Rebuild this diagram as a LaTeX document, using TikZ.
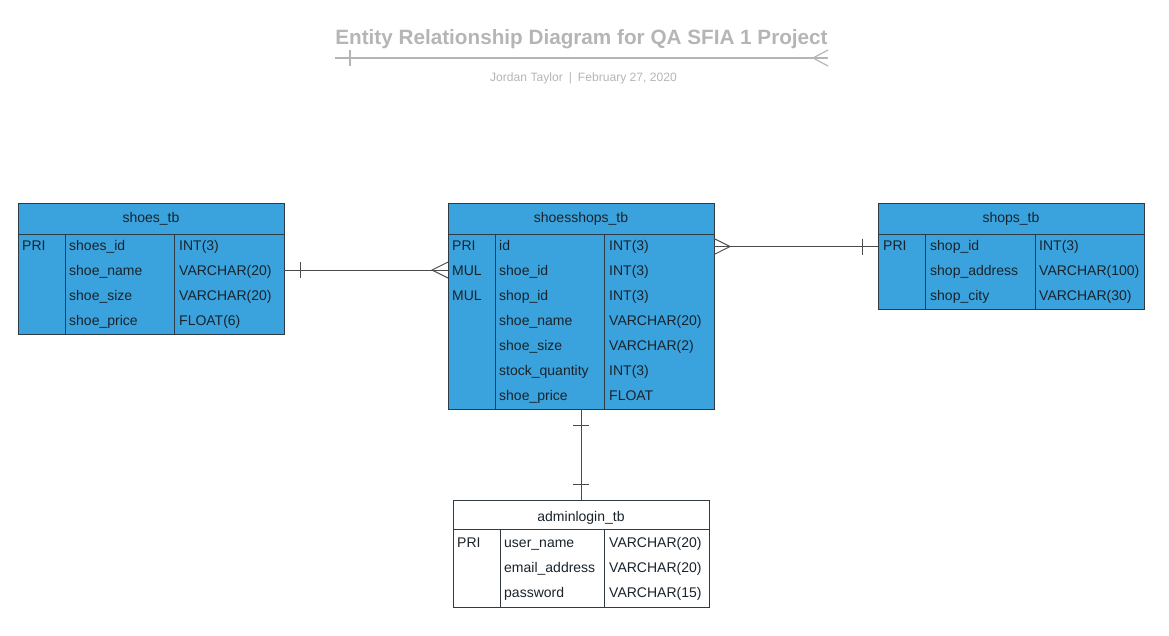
\documentclass[tikz,border=0pt]{standalone}
\usepackage{fontspec}
\setmainfont{Liberation Sans}
\usetikzlibrary{calc}

\definecolor{tblue}{HTML}{3AA3DD}
\definecolor{tline}{HTML}{2E3A44}
\definecolor{ttext}{HTML}{1A232B}
\definecolor{ttitle}{HTML}{B5B5B5}
\definecolor{tconn}{HTML}{4A4A4A}

\tikzset{
  tablebox/.style={draw=tline, line width=0.9pt, anchor=north west, inner sep=0pt, outer sep=0pt},
  grid/.style={draw=tline, line width=0.9pt},
  cell/.style={anchor=base west, inner sep=0pt, text=ttext, font=\fontsize{14}{16}\selectfont},
  headtext/.style={anchor=base, inner sep=0pt, text=ttext, font=\fontsize{14}{16}\selectfont},
  conn/.style={draw=tconn, line width=0.9pt},
  titlerule/.style={draw=ttitle, line width=1.2pt},
}

\begin{document}
\begin{tikzpicture}[x=1pt, y=-1pt]
\useasboundingbox (0,0) rectangle (1169,635);

% ---------- title block ----------
\node[anchor=base, inner sep=0pt, text=ttitle, font=\fontsize{20.7}{24}\selectfont\bfseries] (title) at (581.5,44) {Entity Relationship Diagram for QA SFIA 1 Project};
\node[anchor=base, inner sep=0pt, text=ttitle, font=\fontsize{12.1}{14}\selectfont] (subtitle) at (583.5,81) {Jordan Taylor\hspace{6pt}|\hspace{6pt}February 27, 2020};
\coordinate (ta) at (335,58);
\coordinate (tb) at (828,58);
\draw[titlerule] (ta) -- (tb);
\draw[titlerule] ($(ta)+(15,-8)$) -- ($(ta)+(15,8)$);
\draw[titlerule] ($(tb)+(0,-8)$) -- ($(tb)+(-15,0)$) -- ($(tb)+(0,8)$);

% ---------- shoes_tb ----------
\node[tablebox, fill=tblue, minimum width=266pt, minimum height=131pt] (shoes) at (18,203) {};
\draw[grid] (18,234) -- (284,234);
\draw[grid] (65,234) -- (65,334);
\draw[grid] (174.5,234) -- (174.5,334);
\node[headtext] (shoes-h) at (151,222) {shoes\_tb};
\node[cell] (shoes-k1) at (22,250) {PRI};
\node[cell] (shoes-n1) at (69,250) {shoes\_id};
\node[cell] (shoes-n2) at (69,275) {shoe\_name};
\node[cell] (shoes-n3) at (69,300) {shoe\_size};
\node[cell] (shoes-n4) at (69,325) {shoe\_price};
\node[cell] (shoes-t1) at (179,250) {INT(3)};
\node[cell] (shoes-t2) at (179,275) {VARCHAR(20)};
\node[cell] (shoes-t3) at (179,300) {VARCHAR(20)};
\node[cell] (shoes-t4) at (179,325) {FLOAT(6)};

% ---------- shoesshops_tb ----------
\node[tablebox, fill=tblue, minimum width=266pt, minimum height=206pt] (ss) at (448,203) {};
\draw[grid] (448,234) -- (714,234);
\draw[grid] (495,234) -- (495,409);
\draw[grid] (604.5,234) -- (604.5,409);
\node[headtext] (ss-h) at (581,222) {shoesshops\_tb};
\node[cell] (ss-k1) at (452,250) {PRI};
\node[cell] (ss-k2) at (452,275) {MUL};
\node[cell] (ss-k3) at (452,300) {MUL};
\node[cell] (ss-n1) at (499,250) {id};
\node[cell] (ss-n2) at (499,275) {shoe\_id};
\node[cell] (ss-n3) at (499,300) {shop\_id};
\node[cell] (ss-n4) at (499,325) {shoe\_name};
\node[cell] (ss-n5) at (499,350) {shoe\_size};
\node[cell] (ss-n6) at (499,375) {stock\_quantity};
\node[cell] (ss-n7) at (499,400) {shoe\_price};
\node[cell] (ss-t1) at (609,250) {INT(3)};
\node[cell] (ss-t2) at (609,275) {INT(3)};
\node[cell] (ss-t3) at (609,300) {INT(3)};
\node[cell] (ss-t4) at (609,325) {VARCHAR(20)};
\node[cell] (ss-t5) at (609,350) {VARCHAR(2)};
\node[cell] (ss-t6) at (609,375) {INT(3)};
\node[cell] (ss-t7) at (609,400) {FLOAT};

% ---------- shops_tb ----------
\node[tablebox, fill=tblue, minimum width=266pt, minimum height=106pt] (shops) at (878,203) {};
\draw[grid] (878,234) -- (1144,234);
\draw[grid] (925,234) -- (925,309);
\draw[grid] (1035,234) -- (1035,309);
\node[headtext] (shops-h) at (1011,222) {shops\_tb};
\node[cell] (shops-k1) at (883,250) {PRI};
\node[cell] (shops-n1) at (930,250) {shop\_id};
\node[cell] (shops-n2) at (930,275) {shop\_address};
\node[cell] (shops-n3) at (930,300) {shop\_city};
\node[cell] (shops-t1) at (1039,250) {INT(3)};
\node[cell] (shops-t2) at (1039,275) {VARCHAR(100)};
\node[cell] (shops-t3) at (1039,300) {VARCHAR(30)};

% ---------- adminlogin_tb ----------
\node[tablebox, fill=white, minimum width=256pt, minimum height=107pt] (admin) at (453,500) {};
\draw[grid] (453,529.5) -- (709,529.5);
\draw[grid] (500.5,529.5) -- (500.5,607);
\draw[grid] (604,529.5) -- (604,607);
\node[headtext] (admin-h) at (581,521) {adminlogin\_tb};
\node[cell] (admin-k1) at (457,547.5) {PRI};
\node[cell] (admin-n1) at (504,547.5) {user\_name};
\node[cell] (admin-n2) at (504,572.5) {email\_address};
\node[cell] (admin-n3) at (504,597.5) {password};
\node[cell] (admin-t1) at (609,547.5) {VARCHAR(20)};
\node[cell] (admin-t2) at (609,572.5) {VARCHAR(20)};
\node[cell] (admin-t3) at (609,597.5) {VARCHAR(15)};

% ---------- relationships ----------
% shoes_tb (one) -- shoesshops_tb (many)
\coordinate (r1a) at (shoes.east |- 0,270);
\coordinate (r1b) at (ss.west |- 0,270);
\draw[conn] (r1a) -- (r1b);
\draw[conn] ($(r1a)+(16,-8)$) -- ($(r1a)+(16,8)$);
\draw[conn] ($(r1b)+(0,-8)$) -- ($(r1b)+(-16,0)$) -- ($(r1b)+(0,8)$);

% shoesshops_tb (many) -- shops_tb (one)
\coordinate (r2a) at (ss.east |- 0,246.5);
\coordinate (r2b) at (shops.west |- 0,246.5);
\draw[conn] (r2a) -- (r2b);
\draw[conn] ($(r2a)+(0,-8)$) -- ($(r2a)+(16,0)$) -- ($(r2a)+(0,8)$);
\draw[conn] ($(r2b)+(-16,-8)$) -- ($(r2b)+(-16,8)$);

% shoesshops_tb (one) -- adminlogin_tb (one)
\coordinate (r3a) at (ss.south -| 581,0);
\coordinate (r3b) at (admin.north -| 581,0);
\draw[conn] (r3a) -- (r3b);
\draw[conn] ($(r3a)+(-8,16.5)$) -- ($(r3a)+(8,16.5)$);
\draw[conn] ($(r3b)+(-8,-16)$) -- ($(r3b)+(8,-16)$);
\end{tikzpicture}
\end{document}
